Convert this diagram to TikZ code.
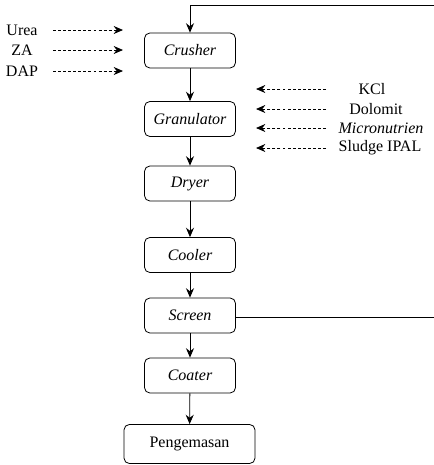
\documentclass[tikz,border=0pt]{standalone}
\usepackage{fontspec}
\setmainfont{Liberation Serif}
\usetikzlibrary{arrows.meta}

\begin{document}
\begin{tikzpicture}
	[x=0.75pt, y=-0.75pt, line width=0.6pt,
	 every node/.style={font=\fontsize{12}{14}\selectfont},
	 unit node/.style={rectangle, draw, rounded corners=4pt, minimum width=68.25pt, minimum height=26.25pt, font=\fontsize{12}{14}\selectfont\itshape},
	 flow/.style={-{Stealth[length=7pt, width=6pt]}},
	 feed/.style={dash pattern=on 2.2pt off 1.6pt, -{Stealth[length=7pt, width=6pt]}}]
	\useasboundingbox (0,0) rectangle (434,465);

	% process units
	\node[unit node] (crusher) at (190,50.5) {Crusher};
	\node[unit node] (granulator) at (190,119) {Granulator};
	\node[unit node] (dryer) at (190,183.5) {Dryer};
	\node[unit node] (cooler) at (190,255) {Cooler};
	\node[unit node] (screen) at (190,315.5) {Screen};
	\node[unit node] (coater) at (190,375.5) {Coater};
	\node[unit node, minimum width=98.25pt, minimum height=29.25pt, font=\fontsize{12}{14}\selectfont] (pengemasan) at (189.5,444) {Pengemasan};

	% main flow
	\foreach \a/\b in {crusher/granulator, granulator/dryer, dryer/cooler, cooler/screen, screen/coater, coater/pengemasan}{
		\draw[flow] (\a) -- (\b);
	}

	% recycle lines
	\coordinate (recyclein) at (434,5);
	\coordinate (recycleout) at (434,317.5);
	\draw[flow] (recyclein) -| (crusher);
	\draw (screen.east |- recycleout) -- (recycleout);

	% raw materials to crusher
	\foreach \name/\txt/\y in {urea/Urea/30, za/ZA/50, dap/DAP/71}{
		\node (\name) at (22,\y) {\txt};
		\coordinate (\name s) at (53,\y);
		\coordinate (\name e) at (123,\y);
		\draw[feed] (\name s) -- (\name e);
	}

	% additives to granulator
	\foreach \name/\txt/\x/\y in {kcl/KCl/372/89, dolomit/Dolomit/376/109, micro/\textit{Micronutrien}/381/128, sludge/Sludge IPAL/380/148}{
		\node (\name) at (\x,\y) {\txt};
		\coordinate (\name s) at (326,\y);
		\coordinate (\name e) at (256,\y);
		\draw[feed] (\name s) -- (\name e);
	}
\end{tikzpicture}
\end{document}
